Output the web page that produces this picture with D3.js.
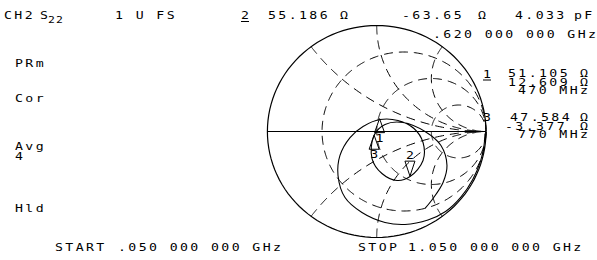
<!DOCTYPE html>
<html>
<head>
<meta charset="utf-8">
<script src="https://cdn.jsdelivr.net/npm/d3@7"></script>
<style>
  html, body { margin: 0; padding: 0; background: #fff; }
  svg text { font-family: "DejaVu Sans Mono", monospace; font-size: 11px; fill: #000; letter-spacing: 2px; }
</style>
</head>
<body>
<svg id="chart" width="597" height="260"></svg>
<script>
// grid values (normalised impedance)
var gridR = [1 / 3, 1, 3];
var gridX = [0.5, 1, 2, -0.5, -1, -2];

var traceRe = [0.991, 0.982, 0.950, 0.880, 0.770, 0.630, 0.469, 0.259, 0.076, -0.135, -0.290, -0.354, -0.336, -0.244, -0.125,
               0.030, 0.195, 0.341, 0.424, 0.424, 0.305, 0.186, 0.048, -0.043, -0.025,
               0.076, 0.241, 0.442, 0.588, 0.643, 0.607, 0.515, 0.442];
var traceIm = [-0.019, -0.132, -0.280, -0.450, -0.620, -0.755, -0.835, -0.877, -0.858, -0.764, -0.623, -0.415, -0.226, -0.057, 0.047,
               0.113, 0.104, 0.028, -0.104, -0.274, -0.425, -0.462, -0.396, -0.255, -0.038,
               0.066, 0.085, 0.000, -0.132, -0.321, -0.481, -0.632, -0.726];

// markers: number, R (ohm), X (ohm), freq (MHz)
var markerNum = [1, 2, 3];
var markerR = [51.105, 55.186, 47.584];
var markerX = [12.609, -63.65, -3.377];
var markerF = [470, 620, 770];
var activeMarker = 2;
var z0 = 50;

var svg = d3.select('#chart');
var cx = 376.7, cy = 131.5, rx = 109.3, ry = 106;

var xs = d3.scaleLinear().domain([-1, 1]).range([cx - rx, cx + rx]);
var ys = d3.scaleLinear().domain([-1, 1]).range([cy + ry, cy - ry]);

var line = d3.line()
    .x(function(d) { return xs(d[0]); })
    .y(function(d) { return ys(d[1]); });

// z -> gamma
function gam(r, x) {
    var dr = (r + 1) * (r + 1) + x * x;
    return [((r * r + x * x) - 1) / dr, (2 * x) / dr];
}

// dashed grid
var g = svg.append('g');
gridR.forEach(function(r) {
    var pts = [];
    for (var i = 0; i <= 400; i++) {
        var t = -Math.PI + 2 * Math.PI * i / 400;
        var x = Math.tan(t / 2 * 0.999);
        pts.push(gam(r, x));
    }
    g.append('path')
        .attr('d', line(pts))
        .attr('fill', 'none')
        .attr('stroke', '#000')
        .attr('stroke-width', 1)
        .attr('stroke-dasharray', '9,6');
});
gridX.forEach(function(x) {
    var pts = [];
    for (var i = 0; i <= 300; i++) {
        var r = Math.pow(10, -3 + 6 * i / 300) - 0.001;
        pts.push(gam(r, x));
    }
    g.append('path')
        .attr('d', line(pts))
        .attr('fill', 'none')
        .attr('stroke', '#000')
        .attr('stroke-width', 1)
        .attr('stroke-dasharray', '9,6');
});

// outer circle and real axis
var outer = d3.range(0, 361, 3).map(function(a) {
    var t = a * Math.PI / 180;
    return [Math.cos(t), Math.sin(t)];
});
svg.append('path')
    .attr('d', line(outer))
    .attr('fill', 'none')
    .attr('stroke', '#000')
    .attr('stroke-width', 1.2);
svg.append('line')
    .attr('x1', xs(-1)).attr('x2', xs(1))
    .attr('y1', ys(0)).attr('y2', ys(0))
    .attr('stroke', '#000')
    .attr('stroke-width', 1.2);

// trace
var tr = traceRe.map(function(v, i) { return [v, traceIm[i]]; });
svg.append('path')
    .attr('d', d3.line().curve(d3.curveCatmullRom)
        .x(function(d) { return xs(d[0]); })
        .y(function(d) { return ys(d[1]); })(tr))
    .attr('fill', 'none')
    .attr('stroke', '#000')
    .attr('stroke-width', 1.1);

// HP style text: wide glyphs, fixed pitch
function hpText(str, x, y, size) {
    return svg.append('text')
        .attr('transform', 'translate(' + x + ',' + y + ') scale(1.2,1)')
        .style('font-size', size ? size + 'px' : null)
        .text(str);
}

// markers
markerNum.forEach(function(n, i) {
    var p = gam(markerR[i] / z0, markerX[i] / z0);
    var px = xs(p[0]), py = ys(p[1]);
    var active = n === activeMarker;
    var h = active ? -15 : 14;
    svg.append('path')
        .attr('d', 'M' + px + ',' + py + 'L' + (px - 5) + ',' + (py + h) + 'L' + (px + 5) + ',' + (py + h) + 'Z')
        .attr('fill', 'none')
        .attr('stroke', '#000')
        .attr('stroke-width', 1);
    hpText(String(n), px - 4, active ? py + h - 2 : py + h + 9);
});

// annotation text
var labels = [
    ['CH2', 4, 19], ['S', 40, 19], ['1 U FS', 115, 19],
    ['2', 241, 19], ['55.186', 268, 19], ['\u03a9', 340, 19],
    ['-63.65', 402, 19], ['\u03a9', 478, 19], ['4.033', 515, 19], ['pF', 574, 19],
    ['.620 000 000 GHz', 433, 38],
    ['PRm', 15, 67], ['Cor', 15, 102], ['Avg', 15, 150], ['4', 15, 160], ['Hld', 15, 212],
    ['START', 55, 251], ['.050 000 000 GHz', 118, 251],
    ['STOP', 358, 251], ['1.050 000 000 GHz', 408, 251],
    ['1', 483, 78], ['51.105', 508, 77], ['\u03a9', 580, 77],
    ['12.609', 508, 85.5], ['\u03a9', 580, 85.5], ['470 MHz', 518, 94],
    ['3', 483, 121], ['47.584', 510, 121], ['\u03a9', 580, 121],
    ['-3.377', 505, 129.5], ['\u03a9', 580, 129.5], ['770 MHz', 518, 138]
];
labels.forEach(function(d) { hpText(d[0], d[1], d[2]); });
hpText('22', 48, 23, 9.5).style('letter-spacing', '1px');
svg.append('line').attr('x1', 241).attr('x2', 249).attr('y1', 21.5).attr('y2', 21.5).attr('stroke', '#000');
svg.append('line').attr('x1', 483).attr('x2', 491).attr('y1', 80).attr('y2', 80).attr('stroke', '#000');
</script>
</body>
</html>
